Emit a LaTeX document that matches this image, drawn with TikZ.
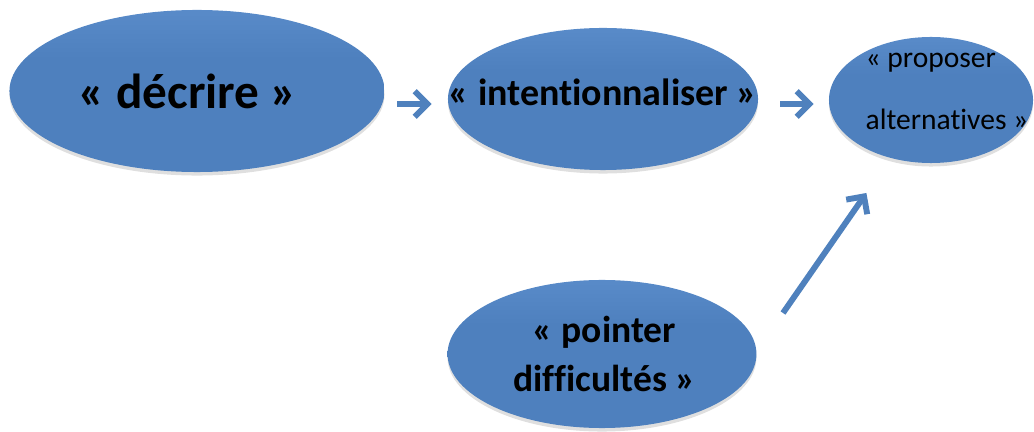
\documentclass[tikz,border=0pt]{standalone}
\usepackage{fontspec}
\setmainfont{Carlito}[Ligatures=NoCommon]
\usepackage{tikz}
\usetikzlibrary{arrows.meta, positioning, shapes.geometric, shadows}
\definecolor{bubtop}{RGB}{150, 190, 236}
\definecolor{bubhigh}{RGB}{98, 148, 210}
\definecolor{bubmid}{RGB}{78, 128, 190}
\definecolor{bubbot}{RGB}{110, 160, 222}
\definecolor{flowblue}{RGB}{79, 129, 189}
\pgfdeclareverticalshading{bubshade}{100bp}{color(0bp)=(bubbot); color(4bp)=(bubmid); color(60bp)=(bubmid); color(88bp)=(bubhigh); color(100bp)=(bubtop)}

\begin{document}
\begin{tikzpicture}[x=0.025cm, y=-0.025cm,
  bubble/.style={ellipse, inner sep=0pt, draw=none, shading=bubshade,
    drop shadow={shadow xshift=0pt, shadow yshift=-2.5pt, opacity=0.25}},
  flow/.style={-{Straight Barb[length=0.32cm, width=0.64cm]}, line width=4.2pt, flowblue}]
  \useasboundingbox (0,0) rectangle (1034,432);

  % the four bubbles
  \node[bubble, minimum width=9.375cm, minimum height=4.05cm,
    label={[font=\bfseries\fontsize{35}{38}\selectfont, xshift=-0.23cm]center:« décrire »}]
    (decrire) at (197,91) {};
  \node[bubble, minimum width=7.75cm, minimum height=3.55cm,
    label={[font=\bfseries\fontsize{27}{30}\selectfont, yshift=0.17cm]center:« intentionnaliser »}]
    (intent) at (603,99) {};
  \node[bubble, minimum width=5.1cm, minimum height=3.15cm,
    label={[font=\fontsize{21}{44}\selectfont, align=left, xshift=0.4cm, yshift=0.22cm]center:« proposer\\alternatives »}]
    (prop) at (931,100) {};
  \node[bubble, minimum width=7.72cm, minimum height=3.7cm,
    label={[font=\bfseries\fontsize{26.7}{35}\selectfont, align=center, xshift=0.06cm]center:« pointer\\difficultés »}]
    (pointer) at (602,354) {};

  % arrows
  \coordinate (s1) at (397,104);
  \draw[flow, shorten >=0.4cm] (s1) -- (s1 -| intent.west);
  \coordinate (s2) at (780,104);
  \draw[flow, shorten >=0.375cm] (s2) -- (s2 -| prop.west);
  \coordinate (s3) at (783,313);
  \draw[flow, shorten >=1.06cm] (s3) -- (prop);
\end{tikzpicture}
\end{document}
